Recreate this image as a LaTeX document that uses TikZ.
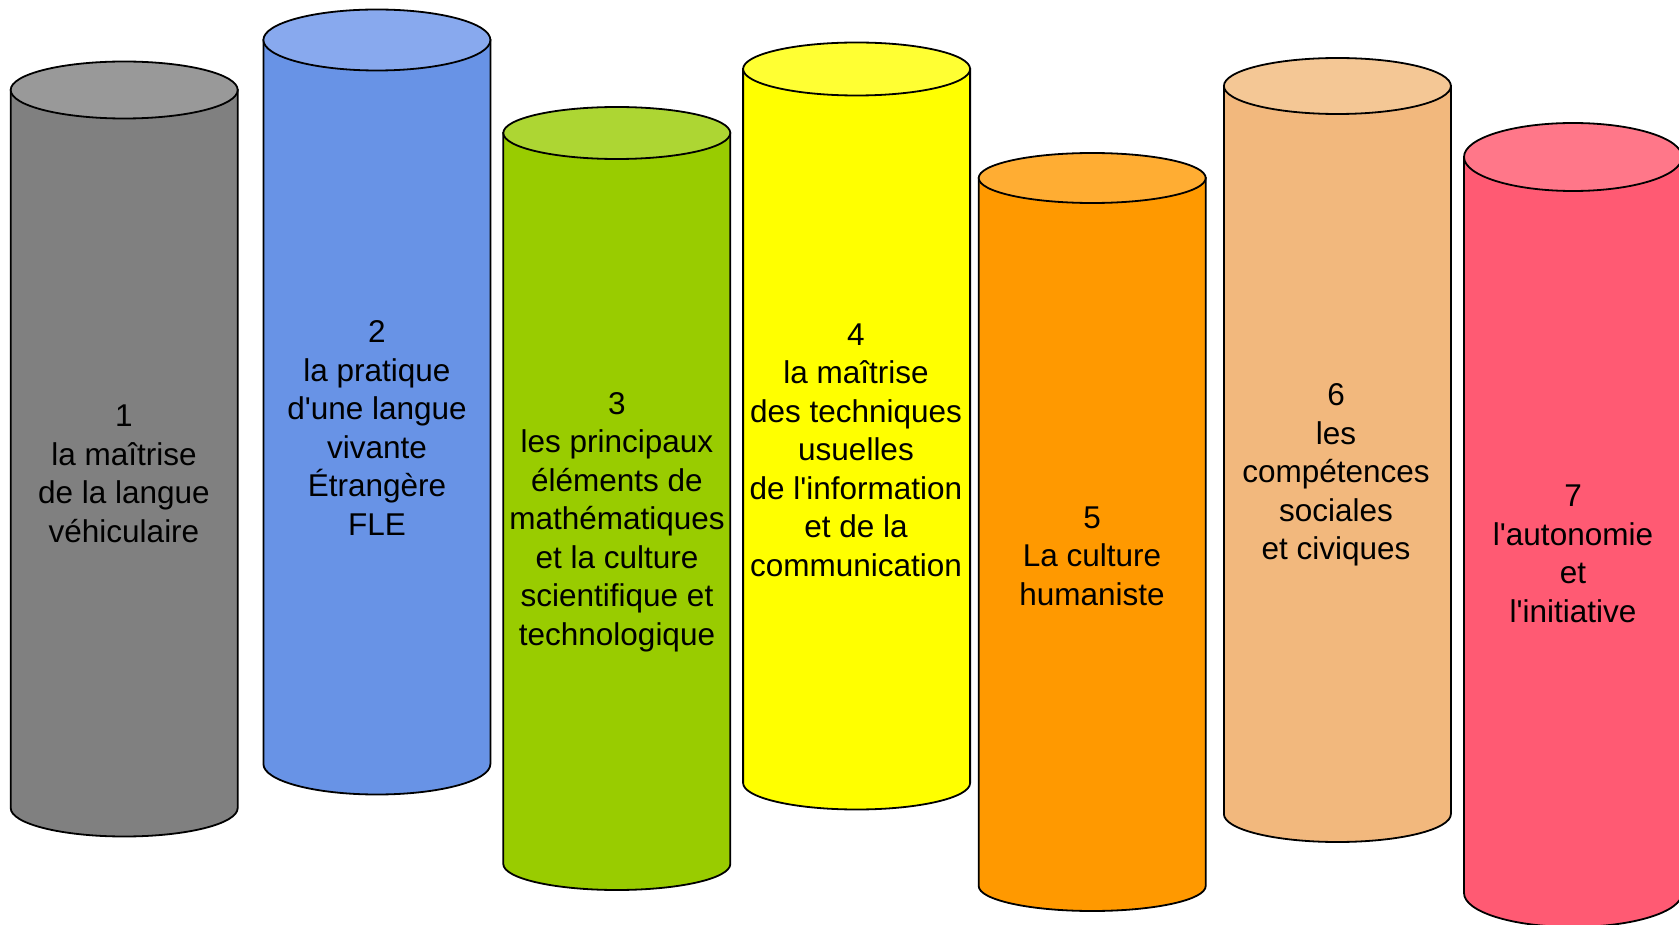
\documentclass[tikz,border=0pt]{standalone}
\usepackage{fontspec}
\setmainfont{Liberation Sans}
\usepackage{xcolor}
\definecolor{grayBody}{HTML}{808080}
\definecolor{grayTop}{HTML}{999999}
\definecolor{blueBody}{HTML}{6893E6}
\definecolor{blueTop}{HTML}{88A9EE}
\definecolor{greenBody}{HTML}{99CC00}
\definecolor{greenTop}{HTML}{ADD633}
\definecolor{yellowBody}{HTML}{FFFF00}
\definecolor{yellowTop}{HTML}{FFFF33}
\definecolor{orangeBody}{HTML}{FF9900}
\definecolor{orangeTop}{HTML}{FFAD33}
\definecolor{tanBody}{HTML}{F2B87D}
\definecolor{tanTop}{HTML}{F4C795}
\definecolor{pinkBody}{HTML}{FF5A73}
\definecolor{pinkTop}{HTML}{FF7789}
\tikzset{x=1pt, y=-1pt,
 rim/.style={draw=black, line width=1.8pt},
 pillartext/.style={align=center, inner sep=0pt,
   font=\fontsize{31.5}{38.5}\selectfont},
 }

\begin{document}
\begin{tikzpicture}
        \useasboundingbox (0,0) rectangle (1679,925);
        \foreach \xl/\w/\yt/\yb/\ry/\body/\top in {
            10.7/227/90/808/28.5/grayBody/grayTop,
            263.4/227/40/764/30.5/blueBody/blueTop,
            503.3/227/133/864/26/greenBody/greenTop,
            743.1/227/69/783/26.5/yellowBody/yellowTop,
            978.7/227/178/886/25/orangeBody/orangeTop,
            1223.9/227/86/814/28/tanBody/tanTop,
            1464/218/157/893/34/pinkBody/pinkTop} {
            \filldraw[rim, fill=\body] (\xl,\yt) -- (\xl,\yb)
                arc[start angle=180, end angle=0, x radius=\w/2, y radius=\ry]
                -- (\xl+\w,\yt) -- cycle;
            \filldraw[rim, fill=\top] (\xl+\w/2,\yt) ellipse[x radius=\w/2, y radius=\ry];
        }
        \node[pillartext] (t1) at (124,474) {1\\la maîtrise\\de la langue\\véhiculaire};
        \node[pillartext] (t2) at (377,428) {2\\la pratique\\d\textquotesingle une langue\\vivante\\Étrangère\\FLE};
        \node[pillartext] (t3) at (617,522) {3\\les principaux\\éléments de\\mathématiques\\et la culture\\scientifique et\\technologique};
        \node[pillartext] (t4) at (856,450) {4\\la maîtrise\\des techniques\\usuelles\\de l\textquotesingle information\\et de la\\communication};
        \node[pillartext] (t5) at (1092,556) {5\\La culture\\humaniste};
        \node[pillartext] (t6) at (1336,475) {6\\les\\compétences\\sociales\\et civiques};
        \node[pillartext] (t7) at (1573,554) {7\\l\textquotesingle autonomie\\et\\l\textquotesingle initiative};
    \end{tikzpicture}
\end{document}
